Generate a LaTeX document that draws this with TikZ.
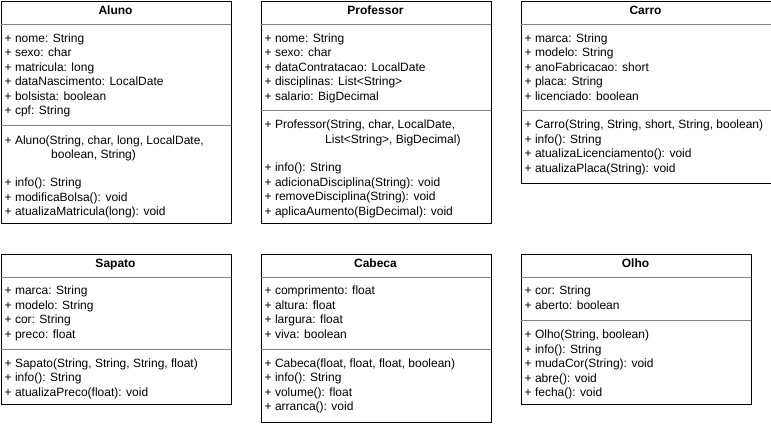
\documentclass[tikz,border=0pt]{standalone}
\usepackage{fontspec}
\setmainfont{Liberation Sans}
\begin{document}
\begin{tikzpicture}[x=1pt,y=-1pt,
  umlbox/.style={draw=black, line width=1pt, anchor=north west, inner sep=0pt, fill=white},
  sepline/.style={draw=black!50, line width=1pt},
  umltitle/.style={font=\fontsize{12pt}{14pt}\selectfont\bfseries, anchor=base, inner sep=0pt},
  row/.style={font=\fontsize{12pt}{14pt}\selectfont, anchor=base west, inner sep=0pt}]
\useasboundingbox (0,0) rectangle (771,424);
\fill[white] (0,0) rectangle (771,424);
% ---------- Aluno ----------
\node[umlbox, minimum width=230pt, minimum height=222pt] (aluno) at (0.5,0.5) {};
\draw[sepline] (0.5,24.5) -- (230.5,24.5);
\draw[sepline] (0.5,125) -- (230.5,125);
\node[umltitle] (alunoT) at (115.5,14.5) {Aluno};
\node[row] (al1) at (4.5,42) {+ nome: String};
\node[row] (al2) at (4.5,56.5) {+ sexo: char};
\node[row] (al3) at (4.5,71) {+ matricula: long};
\node[row] (al4) at (4.5,85.5) {+ dataNascimento: LocalDate};
\node[row] (al5) at (4.5,100) {+ bolsista: boolean};
\node[row] (al6) at (4.5,114.5) {+ cpf: String};
\node[row] (am1) at (4.5,144) {+ Aluno(String, char, long, LocalDate,};
\node[row] (am1b) at (51,158) {boolean, String)};
\node[row] (am2) at (4.5,186.5) {+ info(): String};
\node[row] (am3) at (4.5,201) {+ modificaBolsa(): void};
\node[row] (am4) at (4.5,215.5) {+ atualizaMatricula(long): void};
% ---------- Professor ----------
\node[umlbox, minimum width=230pt, minimum height=222pt] (prof) at (260.5,0.5) {};
\draw[sepline] (260.5,24.5) -- (490.5,24.5);
\draw[sepline] (260.5,110) -- (490.5,110);
\node[umltitle] (profT) at (375.5,14.5) {Professor};
\node[row] (pa1) at (264.5,42) {+ nome: String};
\node[row] (pa2) at (264.5,56.5) {+ sexo: char};
\node[row] (pa3) at (264.5,71) {+ dataContratacao: LocalDate};
\node[row] (pa4) at (264.5,85.5) {+ disciplinas: List<String>};
\node[row] (pa5) at (264.5,100) {+ salario: BigDecimal};
\node[row] (pm1) at (264.5,128.5) {+ Professor(String, char, LocalDate,};
\node[row] (pm1b) at (325,143) {List<String>, BigDecimal)};
\node[row] (pm2) at (264.5,171.5) {+ info(): String};
\node[row] (pm3) at (264.5,186) {+ adicionaDisciplina(String): void};
\node[row] (pm4) at (264.5,200.5) {+ removeDisciplina(String): void};
\node[row] (pm5) at (264.5,215) {+ aplicaAumento(BigDecimal): void};
% ---------- Carro ----------
\node[umlbox, minimum width=250pt, minimum height=182pt] (carro) at (520.5,0.5) {};
\draw[sepline] (520.5,24.5) -- (770.5,24.5);
\draw[sepline] (520.5,110) -- (770.5,110);
\node[umltitle] (carroT) at (645.5,14.5) {Carro};
\node[row] (ca1) at (524.5,42) {+ marca: String};
\node[row] (ca2) at (524.5,56.5) {+ modelo: String};
\node[row] (ca3) at (524.5,71) {+ anoFabricacao: short};
\node[row] (ca4) at (524.5,85.5) {+ placa: String};
\node[row] (ca5) at (524.5,100) {+ licenciado: boolean};
\node[row] (cm1) at (524.5,128.5) {+ Carro(String, String, short, String, boolean)};
\node[row] (cm2) at (524.5,143) {+ info(): String};
\node[row] (cm3) at (524.5,157.5) {+ atualizaLicenciamento(): void};
\node[row] (cm4) at (524.5,172) {+ atualizaPlaca(String): void};
% ---------- Sapato ----------
\node[umlbox, minimum width=230pt, minimum height=150pt] (sapato) at (0.5,253.5) {};
\draw[sepline] (0.5,277) -- (230.5,277);
\draw[sepline] (0.5,349) -- (230.5,349);
\node[umltitle] (sapatoT) at (115.5,267.5) {Sapato};
\node[row] (sa1) at (4.5,294.5) {+ marca: String};
\node[row] (sa2) at (4.5,309) {+ modelo: String};
\node[row] (sa3) at (4.5,323.5) {+ cor: String};
\node[row] (sa4) at (4.5,338) {+ preco: float};
\node[row] (sm1) at (4.5,367) {+ Sapato(String, String, String, float)};
\node[row] (sm2) at (4.5,381.5) {+ info(): String};
\node[row] (sm3) at (4.5,396) {+ atualizaPreco(float): void};
% ---------- Cabeca ----------
\node[umlbox, minimum width=230pt, minimum height=168pt] (cabeca) at (260.5,253.5) {};
\draw[sepline] (260.5,277) -- (490.5,277);
\draw[sepline] (260.5,349) -- (490.5,349);
\node[umltitle] (cabecaT) at (375.5,267.5) {Cabeca};
\node[row] (cb1) at (264.5,294.5) {+ comprimento: float};
\node[row] (cb2) at (264.5,309) {+ altura: float};
\node[row] (cb3) at (264.5,323.5) {+ largura: float};
\node[row] (cb4) at (264.5,338) {+ viva: boolean};
\node[row] (cbm1) at (264.5,367) {+ Cabeca(float, float, float, boolean)};
\node[row] (cbm2) at (264.5,381.5) {+ info(): String};
\node[row] (cbm3) at (264.5,396) {+ volume(): float};
\node[row] (cbm4) at (264.5,410.5) {+ arranca(): void};
% ---------- Olho ----------
\node[umlbox, minimum width=230pt, minimum height=150pt] (olho) at (520.5,253.5) {};
\draw[sepline] (520.5,277) -- (750.5,277);
\draw[sepline] (520.5,320) -- (750.5,320);
\node[umltitle] (olhoT) at (635.5,267.5) {Olho};
\node[row] (ol1) at (524.5,294.5) {+ cor: String};
\node[row] (ol2) at (524.5,309) {+ aberto: boolean};
\node[row] (om1) at (524.5,338.5) {+ Olho(String, boolean)};
\node[row] (om2) at (524.5,353) {+ info(): String};
\node[row] (om3) at (524.5,367.5) {+ mudaCor(String): void};
\node[row] (om4) at (524.5,382) {+ abre(): void};
\node[row] (om5) at (524.5,396.5) {+ fecha(): void};
\end{tikzpicture}
\end{document}
